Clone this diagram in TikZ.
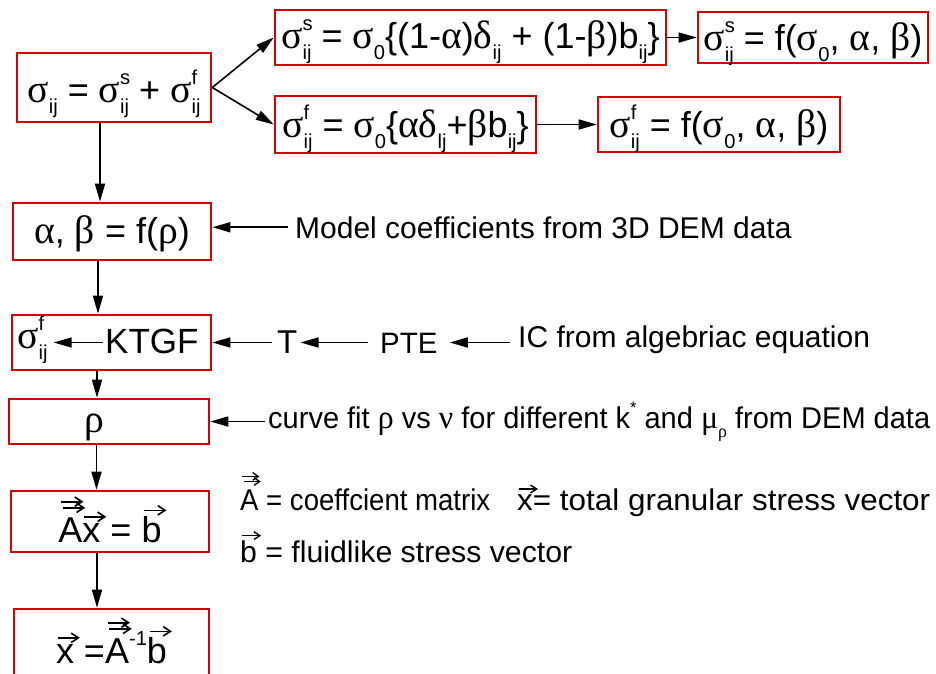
\documentclass[tikz,border=0pt]{standalone}
\usepackage{fontspec}
\setmainfont{Liberation Sans}
\newfontfamily\grk[Scale=1.1]{Liberation Serif}
\usepackage{graphicx}
\usetikzlibrary{arrows.meta}
\definecolor{boxred}{RGB}{210,0,0}
\newcommand\G[1]{{\grk #1}}
\newcommand\Sup[1]{\raisebox{0.48em}{\scalebox{0.56}{#1}}}
\newcommand\Sub[1]{\raisebox{-0.32em}{\scalebox{0.56}{#1}}}
\newcommand\SupSub[2]{\rlap{\Sup{#1}}\Sub{#2}}
\newcommand\varr{\tikz[baseline=0pt,x=1em,y=1em]{\draw[black,line width=0.045em,
   -{Straight Barb[length=0.2em,width=0.26em,line width=0.045em]}] (0,0) -- (0.62,0);}}
\newcommand\vecx[1]{\rlap{\kern0.02em\raisebox{0.7em}{\varr}}#1}
\newcommand\vecb[1]{\rlap{\kern0.05em\raisebox{0.88em}{\varr}}#1}
\newcommand\vecA[1]{\rlap{\kern0.05em\raisebox{1.12em}{\varr}}\rlap{\kern0.1em\raisebox{0.95em}{\varr}}#1}
\tikzset{
  box/.style={draw=boxred, line width=2.6pt, inner sep=0pt, text depth=0pt, text height=25pt,
              font=\fontsize{36}{42}\selectfont},
  arr/.style={-{Triangle[length=18pt,width=10pt]}, line width=1.6pt},
  lbl/.style={inner sep=0pt, anchor=base west},
}
\begin{document}
\begin{tikzpicture}[x=1pt,y=-1pt]
\fill[white] (0,0) rectangle (936,673);
\useasboundingbox (0,0) rectangle (936,673);

% boxes
\node[box, minimum width=194pt, minimum height=69pt, text height=29pt] (b1) at (114,87.5)
  {\G{σ}\Sub{ij} = \G{σ}\SupSub{s}{ij} + \G{σ}\SupSub{f}{ij}};
\node[box, minimum width=391pt, minimum height=55pt, text height=21pt] (b2) at (470.5,37.5)
  {\G{σ}\SupSub{s}{ij} = \G{σ}\Sub{0}\{(1-\G{α})\G{δ}\Sub{ij} + (1-\G{β})b\Sub{ij}\}};
\node[box, minimum width=230pt, minimum height=51pt] (b3) at (813,37.5)
  {\G{σ}\SupSub{s}{ij} = f(\G{σ}\Sub{0}, \G{α}, \G{β})};
\node[box, minimum width=261pt, minimum height=57pt] (b4) at (405.5,124.5)
  {\G{σ}\SupSub{f}{ij} = \G{σ}\Sub{0}\{\G{α}\G{δ}\Sub{lj}+\G{β}b\Sub{ij}\}};
\node[box, minimum width=242pt, minimum height=55pt] (b5) at (719,124.5)
  {\G{σ}\SupSub{f}{ij} = f(\G{σ}\Sub{0}, \G{α}, \G{β})};
\node[box, minimum width=198pt, minimum height=57pt, text height=23pt] (b6) at (112,231.5)
  {\G{α}, \G{β} = f(\G{ρ})};
\node[box, minimum width=199pt, minimum height=55pt] (b7) at (111.5,342.5) {};
\node[box, minimum width=200pt, minimum height=45pt] (b8) at (109,421.5) {};
\node[box, minimum width=198pt, minimum height=61pt, text height=41pt] (b9) at (110,521.5)
  {\vecA{A}\vecx{x} = \vecb{b}};
\node[box, minimum width=195pt, minimum height=72pt, text height=36pt] (b10) at (111.5,645)
  {\vecx{x} =\vecA{A}\Sup{-1}\vecb{b}};

% texts inside boxes 7 and 8
\node[lbl, font=\fontsize{35}{40}\selectfont] (k7) at (105,353) {KTGF};
\node[lbl, font=\fontsize{36}{40}\selectfont] (s7) at (17,348) {\G{σ}\SupSub{f}{ij}};
\node[lbl, font=\fontsize{36}{40}\selectfont] (r8) at (84,432) {\G{ρ}};

% side texts
\node[lbl, font=\fontsize{30}{34}\selectfont] (model) at (295,238) {Model coefficients from 3D DEM data};
\node[lbl, font=\fontsize{33}{38}\selectfont] (T) at (277,353) {T};
\node[lbl, font=\fontsize{29.5}{34}\selectfont] (PTE) at (380,353) {PTE};
\node[lbl, font=\fontsize{30}{34}\selectfont] (IC) at (518,347) {IC from algebriac equation};
\node[lbl, font=\fontsize{30}{34}\selectfont] (cf) at (268,428)
  {\resizebox{662pt}{\height}{curve fit \G{ρ} vs \G{ν} for different k\Sup{*} and \G{μ}\Sub{\G{ρ}} from DEM data}};
\node[lbl, font=\fontsize{30}{34}\selectfont] (legA) at (240,510)
  {\resizebox{250pt}{\height}{\vecA{A} = coeffcient matrix}};
\node[lbl, font=\fontsize{30}{34}\selectfont] (legx) at (517,510)
  {\resizebox{413pt}{\height}{\vecx{x}= total granular stress vector}};
\node[lbl, font=\fontsize{30}{34}\selectfont] (legb) at (240,562)
  {\resizebox{332pt}{\height}{\vecb{b} = fluidlike stress vector}};

% connectors
\draw[arr] (b1.east) -- (b2.west);
\draw[arr] (b1.east) -- (b4.west);
\draw[arr] (b2.east) -- (b3.west);
\draw[arr] (b4.east) -- (b5.west);
\draw[arr] ([xshift=-14pt]b1.south) -- ([xshift=-12pt]b6.north);
\draw[arr] ([xshift=-14pt]b6.south) -- ([xshift=-13.5pt]b7.north);
\draw[arr] ([xshift=-14.5pt]b7.south) -- ([xshift=-12pt]b8.north);
\draw[arr] ([xshift=-12.5pt]b8.south) -- ([xshift=-13.5pt]b9.north);
\draw[arr] ([xshift=-13pt]b9.south) -- ([xshift=-14.5pt]b10.north);
\draw[arr, shorten <=7pt] (model.west) -- (model.west -| b6.east);
\draw[arr, shorten <=5pt] (T.west |- b7.east) -- (b7.east);
\draw[arr, shorten <=12pt, shorten >=3pt] (PTE.west |- b7.east) -- (T.east |- b7.east);
\draw[arr, shorten <=8pt, shorten >=12pt] (IC.west |- b7.east) -- (PTE.east |- b7.east);
\draw[arr, shorten <=2pt, shorten >=6pt] (k7.west |- b7.east) -- (s7.east |- b7.east);
\draw[arr, shorten <=3pt] (cf.west |- b8.east) -- (b8.east);
\end{tikzpicture}
\end{document}
